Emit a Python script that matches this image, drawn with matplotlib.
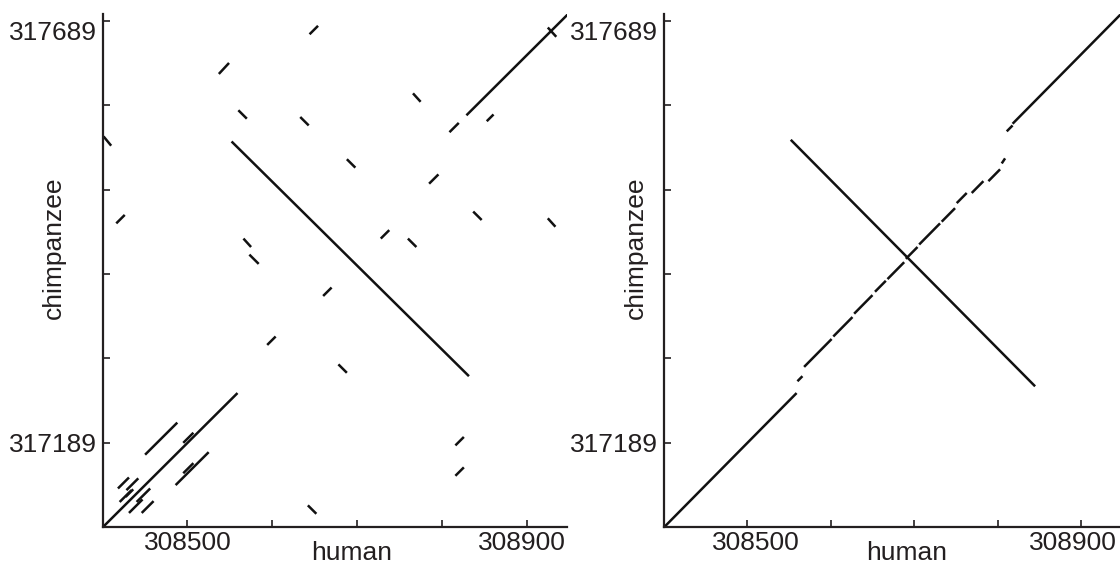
import matplotlib
matplotlib.use("Agg")
import matplotlib.pyplot as plt
from matplotlib.transforms import ScaledTranslation

plt.rcParams["font.family"] = ["Liberation Sans", "DejaVu Sans"]

INK = "#231f20"

# Axis ranges (human on x, chimpanzee on y)
human_range = (308400, 308948)
chimp_range = (317089, 317697)
human_ticks = [308500, 308600, 308700, 308800, 308900]
human_ticklabels = ["308500", "", "", "", "308900"]
chimp_ticks = [317189, 317289, 317389, 317489, 317589, 317689]
chimp_ticklabels = ["317189", "", "", "", "", "317689"]

# Left dot plot: matching segments (human start/end, chimpanzee start/end)
left_h_start = [308400, 308450, 308495, 308486, 308495, 308416, 308537, 308644, 308829, 308853,
                308809, 308785, 308728, 308660, 308594, 308816, 308816,
                308552, 308925, 308766, 308560, 308633, 308401, 308688, 308837, 308925, 308760,
                308566, 308573, 308678, 308642,
                308418, 308428, 308420, 308431, 308440, 308446, 308427]
left_h_end = [308559, 308488, 308507, 308525, 308507, 308426, 308549, 308654, 308952, 308861,
              308820, 308796, 308738, 308670, 308604, 308826, 308826,
              308832, 308935, 308775, 308570, 308643, 308410, 308698, 308847, 308934, 308770,
              308575, 308584, 308688, 308652,
              308431, 308442, 308434, 308447, 308456, 308460, 308436]
left_c_start = [317089, 317175, 317189, 317139, 317153, 317449, 317626, 317673, 317577, 317570,
                317557, 317496, 317431, 317363, 317305, 317186, 317150,
                317546, 317681, 317603, 317583, 317575, 317552, 317525, 317463, 317455, 317431,
                317431, 317412, 317282, 317115,
                317135, 317133, 317119, 317106, 317119, 317106, 317125]
left_c_end = [317248, 317213, 317201, 317178, 317165, 317459, 317639, 317683, 317700, 317578,
              317568, 317507, 317441, 317373, 317315, 317196, 317160,
              317268, 317670, 317593, 317573, 317565, 317541, 317515, 317453, 317445, 317421,
              317421, 317401, 317272, 317105,
              317148, 317147, 317133, 317122, 317135, 317120, 317134]

# Right dot plot: collinear pieces of the forward alignment plus the inversion
right_h_start = [308400, 308560, 308568, 308603, 308628, 308653, 308668, 308690, 308706, 308733,
                 308751, 308769, 308789, 308805, 308811, 308818, 308552]
right_h_end = [308559, 308566, 308601, 308626, 308650, 308666, 308688, 308704, 308731, 308749,
               308763, 308783, 308803, 308809, 308818, 308952, 308845]
right_c_start = [317089, 317262, 317279, 317315, 317342, 317368, 317383, 317407, 317424, 317451,
                 317473, 317485, 317499, 317520, 317558, 317567, 317548]
right_c_end = [317248, 317268, 317312, 317338, 317364, 317381, 317403, 317421, 317449, 317467,
               317485, 317499, 317513, 317526, 317565, 317701, 317256]

W, H = 1120, 563
fig = plt.figure(figsize=(W / 100, H / 100), dpi=100)


def px_axes(x0, x1, y_top, y_bottom):
    return fig.add_axes([x0 / W, 1 - y_bottom / H, (x1 - x0) / W, (y_bottom - y_top) / H])


def shift_label(lbl, dx_px):
    lbl.set_transform(lbl.get_transform() + ScaledTranslation(dx_px / 100, 0, fig.dpi_scale_trans))


def style(ax, x_shifts):
    ax.set_xlim(*human_range)
    ax.set_ylim(*chimp_range)
    for side in ("top", "right"):
        ax.spines[side].set_visible(False)
    for side in ("left", "bottom"):
        ax.spines[side].set_linewidth(1.6)
        ax.spines[side].set_color(INK)
    ax.set_xticks(human_ticks)
    ax.set_xticklabels(human_ticklabels)
    ax.set_yticks(chimp_ticks)
    ax.set_yticklabels(chimp_ticklabels)
    ax.tick_params(direction="in", length=5, width=1.2, color=INK, labelcolor=INK,
                   labelsize=19)
    ax.tick_params(axis="x", pad=3)
    ax.tick_params(axis="y", pad=4)
    for lbl in ax.get_yticklabels():
        if lbl.get_text() == "317689":
            lbl.set_va("top")
    for lbl in ax.get_xticklabels():
        if lbl.get_text() in x_shifts:
            shift_label(lbl, x_shifts[lbl.get_text()])


def draw_segments(ax, hs, he, cs, ce):
    for a, b, c, d in zip(hs, he, cs, ce):
        ax.plot([a, b], [c, d], color="#111111", lw=1.8, solid_capstyle="butt")


ax1 = px_axes(102.7, 567.3, 14, 527.3)
style(ax1, {"308900": -5})
draw_segments(ax1, left_h_start, left_h_end, left_c_start, left_c_end)

ax2 = px_axes(664, 1121, 14, 527.3)
style(ax2, {"308500": 8, "308900": -8})
draw_segments(ax2, right_h_start, right_h_end, right_c_start, right_c_end)

for cx in (352, 907):
    fig.text(cx / W, 1 - 560 / H, "human", ha="center", va="baseline", fontsize=19, color=INK)
for cx in (54, 636):
    fig.text(cx / W, 1 - 248 / H, "chimpanzee", ha="center", va="center", rotation=90,
             fontsize=19, color=INK)

fig.savefig("out.png", dpi=100)
